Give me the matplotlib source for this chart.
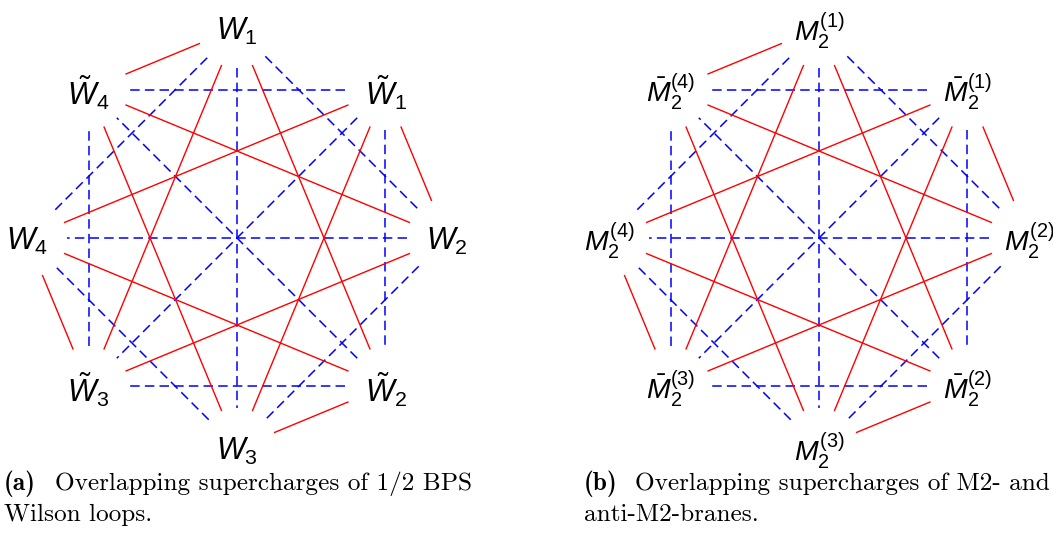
import numpy as np
import matplotlib
matplotlib.use('Agg')
import matplotlib.pyplot as plt

plt.rcParams['mathtext.fontset'] = 'custom'
plt.rcParams['mathtext.rm'] = 'Liberation Sans'
plt.rcParams['mathtext.it'] = 'Liberation Sans:italic'
plt.rcParams['mathtext.bf'] = 'Liberation Sans:bold'

# Node labels, clockwise from the top
labels_a = [r'$W_1$', r'$\tilde{W}_1$', r'$W_2$', r'$\tilde{W}_2$',
            r'$W_3$', r'$\tilde{W}_3$', r'$W_4$', r'$\tilde{W}_4$']
labels_b = [r'$M_2^{(1)}$', r'$\bar{M}_2^{(1)}$', r'$M_2^{(2)}$', r'$\bar{M}_2^{(2)}$',
            r'$M_2^{(3)}$', r'$\bar{M}_2^{(3)}$', r'$M_2^{(4)}$', r'$\bar{M}_2^{(4)}$']

# Edges (index pairs into the label lists)
red_edges = [(7, 0), (1, 2), (3, 4), (5, 6),
             (0, 3), (0, 5), (2, 5), (2, 7), (4, 7), (4, 1), (6, 1), (6, 3)]
blue_edges = [(0, 4), (2, 6), (1, 7), (3, 5), (1, 3), (5, 7), (1, 5), (3, 7),
              (0, 2), (2, 4), (4, 6), (6, 0)]

tags = ['(a)', '(b)']
captions = [
    ('Overlapping supercharges of 1/2 BPS', 'Wilson loops.'),
    ('Overlapping supercharges of M2- and', 'anti-M2-branes.'),
]

W, H = 1053, 537
fig = plt.figure(figsize=(W / 100, H / 100), dpi=100)
ax = fig.add_axes([0, 0, 1, 1])
ax.set_xlim(0, W)
ax.set_ylim(H, 0)
ax.axis('off')

R = 210
trim = 40
angles = np.deg2rad(90 - 45 * np.arange(8))


def draw_octagon(cx, cy, labels, fsize):
    pos = np.column_stack([cx + R * np.cos(angles), cy - R * np.sin(angles)])
    for edges, color, ls, lw in [(blue_edges, '#0000ff', (0, (6.2, 3.4)), 1.1),
                                 (red_edges, '#ff0000', '-', 1.0)]:
        for i, j in edges:
            p, q = pos[i], pos[j]
            u = (q - p) / np.hypot(*(q - p))
            a, b = p + trim * u, q - trim * u
            ax.plot([a[0], b[0]], [a[1], b[1]], color=color, ls=ls, lw=lw,
                    solid_capstyle='butt', dash_capstyle='butt')
    for k, lab in enumerate(labels):
        ax.text(pos[k, 0], pos[k, 1] + 3, lab, fontsize=fsize,
                ha='center', va='center')


draw_octagon(237, 238, labels_a, 22)
draw_octagon(819, 238, labels_b, 20.5)

for x0, tag, (l1, l2) in zip([4, 584], tags, captions):
    ax.text(x0, 490, tag, fontsize=18.2, family='cmb10',
            ha='left', va='baseline')
    ax.text(x0 + 51, 490, l1, fontsize=18.2, family='cmr10',
            ha='left', va='baseline')
    ax.text(x0, 521, l2, fontsize=18.2, family='cmr10',
            ha='left', va='baseline')

fig.savefig('out.png', dpi=100)
